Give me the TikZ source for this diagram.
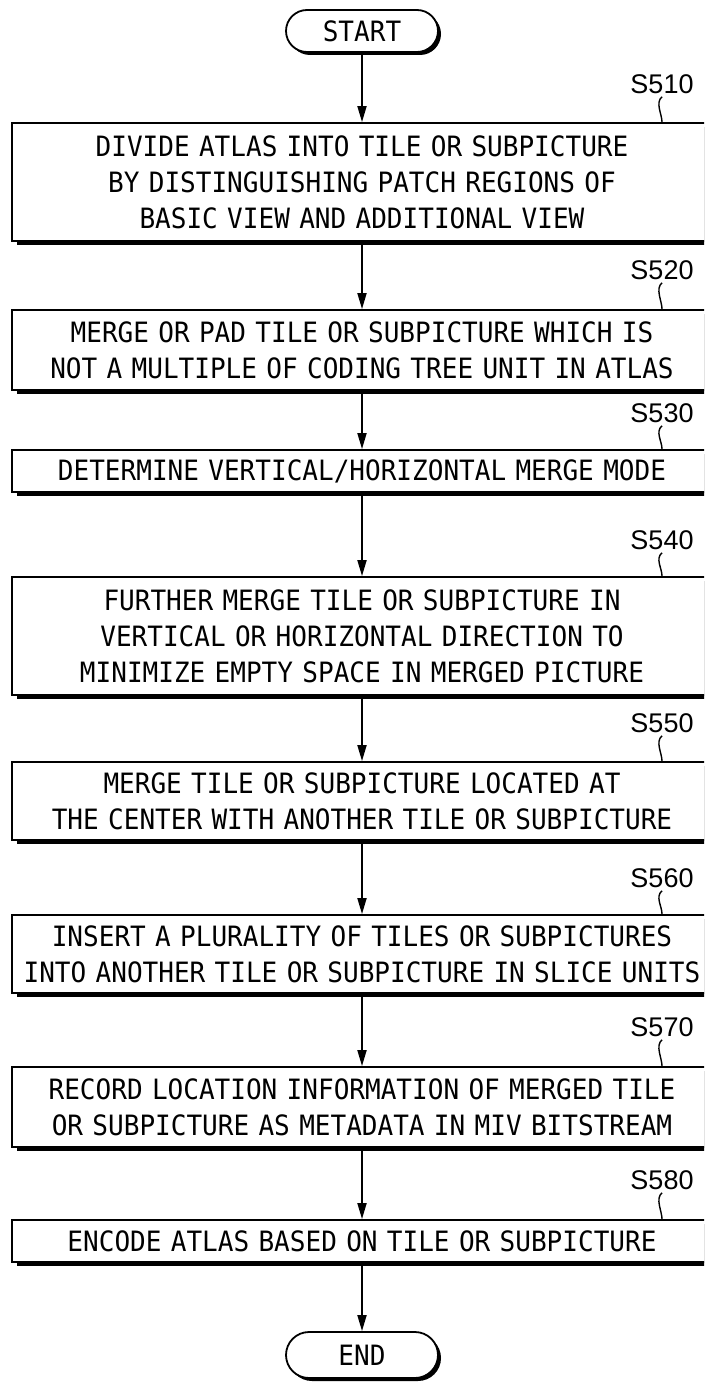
\documentclass[tikz,border=0pt]{standalone}
\usepackage{fontspec}
\newfontfamily\boxfont[FakeStretch=0.93]{DejaVu Sans Mono}
\newfontfamily\labfont{Liberation Sans}
\usetikzlibrary{arrows.meta,shapes.misc,shadows}
\begin{document}
\begin{tikzpicture}[x=1pt,y=-1pt,
  stepbox/.style={draw,line width=1.8pt,fill=white,minimum width=700pt,text width=700pt,
    align=center,inner sep=0pt,font=\boxfont\fontsize{28}{36}\selectfont,
    drop shadow={shadow xshift=5pt,shadow yshift=-4pt,fill=black,opacity=1}},
  term/.style={rounded rectangle,draw,line width=1.8pt,fill=white,minimum width=152pt,
    minimum height=42pt,inner sep=0pt,font=\boxfont\fontsize{28}{36}\selectfont,
    drop shadow={shadow xshift=3pt,shadow yshift=-3pt,fill=black,opacity=1}},
  lab/.style={font=\labfont\fontsize{27}{30}\selectfont,inner sep=0pt},
  arr/.style={line width=1.8pt,-{Triangle[length=16pt,width=9pt]}},
  squig/.style={line width=1.4pt}]
\useasboundingbox (0,0) rectangle (704,1388);
\clip (0,0) rectangle (704,1388);

\node[term] (start) at (362,31) {START};

\node[stepbox,minimum height=118pt] (b1) at (362,182) {DIVIDE ATLAS INTO TILE OR SUBPICTURE\\BY DISTINGUISHING PATCH REGIONS OF\\BASIC VIEW AND ADDITIONAL VIEW};
\node[stepbox,minimum height=80pt] (b2) at (362,350) {MERGE OR PAD TILE OR SUBPICTURE WHICH IS\\NOT A MULTIPLE OF CODING TREE UNIT IN ATLAS};
\node[stepbox,minimum height=42pt] (b3) at (362,471) {DETERMINE VERTICAL/HORIZONTAL MERGE MODE};
\node[stepbox,minimum height=118pt] (b4) at (362,636) {FURTHER MERGE TILE OR SUBPICTURE IN\\VERTICAL OR HORIZONTAL DIRECTION TO\\MINIMIZE EMPTY SPACE IN MERGED PICTURE};
\node[stepbox,minimum height=78pt] (b5) at (362,801) {MERGE TILE OR SUBPICTURE LOCATED AT\\THE CENTER WITH ANOTHER TILE OR SUBPICTURE};
\node[stepbox,minimum height=78pt] (b6) at (362,954) {INSERT A PLURALITY OF TILES OR SUBPICTURES\\INTO ANOTHER TILE OR SUBPICTURE IN SLICE UNITS};
\node[stepbox,minimum height=80pt] (b7) at (362,1107) {RECORD LOCATION INFORMATION OF MERGED TILE\\OR SUBPICTURE AS METADATA IN MIV BITSTREAM};
\node[stepbox,minimum height=42pt] (b8) at (362,1241) {ENCODE ATLAS BASED ON TILE OR SUBPICTURE};

\node[term,minimum height=46pt] (end) at (362,1355) {END};

\node[lab] (l1) at (662,84) {S510};
\node[lab] (l2) at (662,270) {S520};
\node[lab] (l3) at (662,413) {S530};
\node[lab] (l4) at (662,540) {S540};
\node[lab] (l5) at (662,723) {S550};
\node[lab] (l6) at (662,878) {S560};
\node[lab] (l7) at (662,1027) {S570};
\node[lab] (l8) at (662,1180) {S580};

\foreach \i in {1,...,8}{
  \draw[squig] ([yshift=-3pt]l\i.south) .. controls +(-7,6) and +(0,-8) .. (l\i.south |- b\i.north);
}

\draw[arr] (start.south) -- (b1.north);
\draw[arr] (b1.south) -- (b2.north);
\draw[arr] (b2.south) -- (b3.north);
\draw[arr] (b3.south) -- (b4.north);
\draw[arr] (b4.south) -- (b5.north);
\draw[arr] (b5.south) -- (b6.north);
\draw[arr] (b6.south) -- (b7.north);
\draw[arr] (b7.south) -- (b8.north);
\draw[arr] (b8.south) -- (end.north);
\end{tikzpicture}
\end{document}
